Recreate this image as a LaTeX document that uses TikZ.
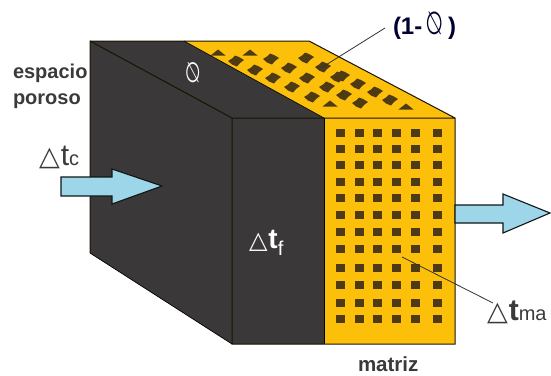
\documentclass[tikz,border=0pt]{standalone}
\usepackage{fontspec}
\usepackage{graphicx}
\setmainfont{Liberation Sans}
\newfontfamily\symf{DejaVu Sans}
\definecolor{darkface}{HTML}{3A3838}
\definecolor{yell}{HTML}{FCC00A}
\definecolor{pore}{HTML}{4E3B14}
\definecolor{flow}{HTML}{9CD6E8}
\definecolor{labelc}{HTML}{3A3A3C}
\newcommand{\fsz}[1]{\fontsize{#1}{#1}\selectfont}
\newcommand{\tri}[1]{{\mdseries\symf\fsz{#1}\char"25B3}}
\newcommand{\phisym}[1]{\scalebox{-0.78}[1.22]{\mdseries\symf\fsz{#1}\char"2205}}
\tikzset{
  edge/.style={draw=black!90!yell,line width=1pt,line join=miter},
  thinedge/.style={draw=black,line width=.7pt},
  flowarrow/.style={fill=flow,draw=black!90!flow,line width=1.1pt,line join=miter},
  leader/.style={draw=black!80,line width=.8pt},
  txt/.style={inner sep=0pt,outer sep=0pt,anchor=base west,text=labelc,font=\bfseries},
  poresq/.pic={\fill[pore] (-4.5,-4) rectangle (4.5,4);},
  porediamond/.pic={\fill[pore] (-8,0) -- (-4,-2.5) -- (-1,-5.5) -- (3,-4) -- (8,-1) -- (4,2) -- (1,5.5) -- (-4,3.5) -- cycle;},
  porehalf/.pic={\fill[pore] (-7.5,2.5) -- (0,-3.5) -- (7.5,2.5) -- cycle;}
}
\begin{document}
\begin{tikzpicture}[x=1pt,y=-1pt]
\useasboundingbox (0,0) rectangle (551,375);
% left and dark top faces
\fill[darkface] (90,41) -- (184,41) -- (324,118) -- (324,344) -- (232,344) -- (90,253) -- cycle;
% yellow faces
\fill[yell] (184,41) -- (309,41) -- (455,118) -- (324,118) -- cycle;
\fill[yell] (324,118) rectangle (455,344);
% pores, front
\foreach \y in {133,149,165,182,198,215,232,249,268,285,303,319}
  \foreach \x in {340,359,377,396,415,437}
    \pic at (\x,\y) {poresq};
% pores, top
\foreach \p in {(236,61),(271,59),(306,58),(323,67),(255,70),(289,68),(273,78),(307,78),(338,77),(292,87),(327,87),(312,97),(342,76),(358,84),(375,92),(344,95),(360,103),(390,100)}
  \pic at \p {porediamond};
\foreach \p in {(218,53),(250,53),(330,104),(406,107)}
  \pic at \p {porehalf};
% outlines
\draw[edge] (90,253) -- (90,41) -- (309,41) -- (455,118) -- (455,344) -- (232,344) -- (232,118) -- (455,118);
\draw[edge] (90,41) -- (232,118);
\draw[thinedge] (90,253) -- (232,344);
\draw[thinedge] (184,41) -- (324,118);
\draw[thinedge] (324,118) -- (324,344);
% flow arrows
\draw[flowarrow] (61,177) -- (112,177) -- (112,169) -- (162,186) -- (112,204) -- (112,196) -- (61,196) -- cycle;
\draw[flowarrow] (455,205) -- (503,205) -- (503,194) -- (550,213) -- (503,233) -- (503,223) -- (455,223) -- cycle;
% texts
\node[txt] (esp) at (13,78) {\fsz{20}espacio};
\node[txt] (por) at (13,104) {\fsz{20}poroso};
\node[txt] (mat) at (358,371) {\fsz{20.5}matriz};
\node[txt,text=white] (phitop) at (185,82) {\phisym{23}};
\node[txt,text=black!80!blue] (solid) at (393,34) {\fsz{24}(1-\hspace{3pt}\phisym{26}\hspace{5pt})};
\node[txt] (dtc) at (39,165) {\tri{27}\hspace{1pt}\fsz{30}\mdseries t\fsz{20}c};
\node[txt,text=white] (dtf) at (249,248) {\tri{24}\hspace{1pt}\fsz{28}t\raisebox{-7pt}{\fsz{20}\mdseries f}};
\node[txt] (dtm) at (487,320) {\tri{27}\hspace{1pt}\fsz{30}t\fsz{20}\mdseries ma};
% leaders
\coordinate (solidend) at (385,28);
\coordinate (soliddot) at (321,68);
\coordinate (matend) at (493,303);
\coordinate (matdot) at (402,257);
\draw[leader] (solidend) -- (soliddot);
\draw[leader] (matend) -- (matdot);
\end{tikzpicture}
\end{document}
